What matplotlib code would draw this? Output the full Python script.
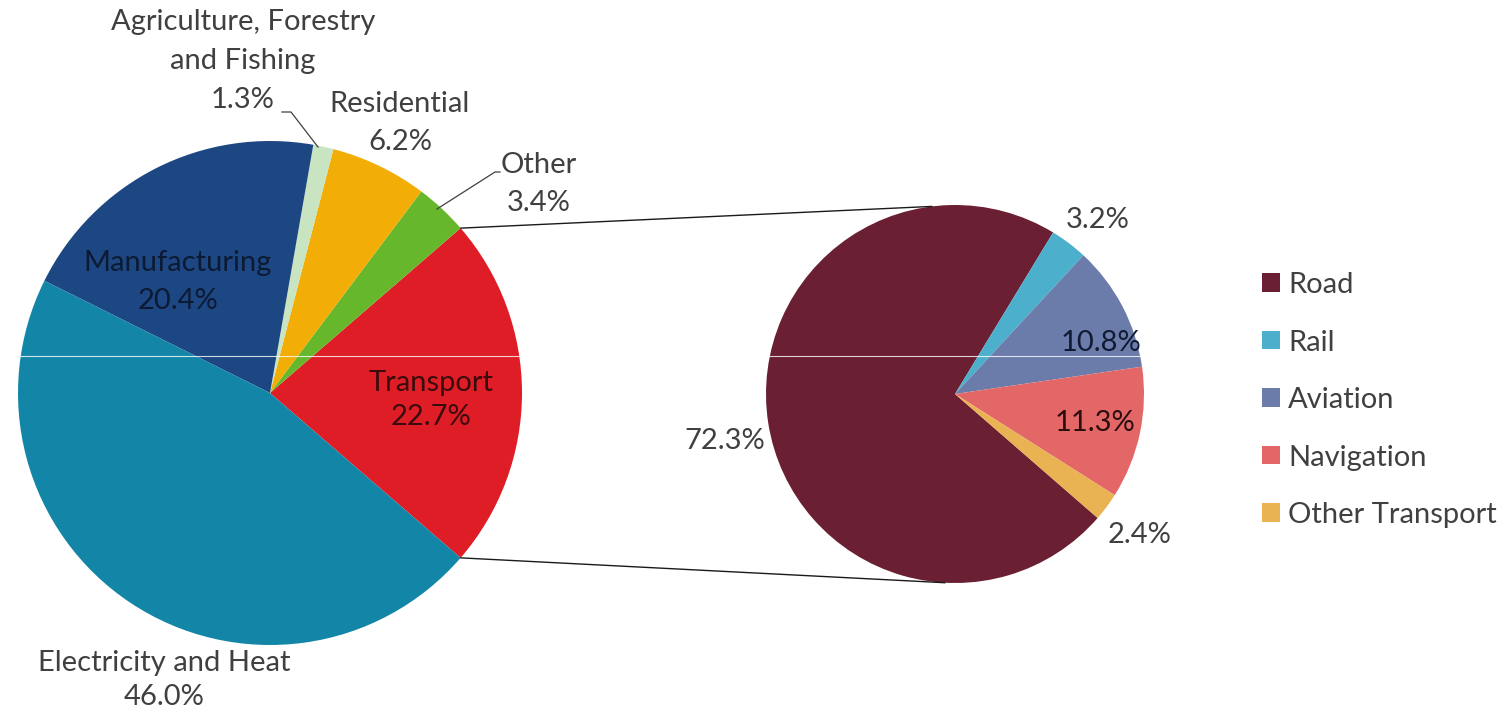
import numpy as np
import matplotlib.pyplot as plt
from matplotlib.patches import ConnectionPatch, Patch

W, H = 1503, 715

# main pie, listed counter-clockwise starting from the Transport slice
sectors = ["Transport", "Other", "Residential", "Agriculture, Forestry and Fishing",
           "Manufacturing", "Electricity and Heat"]
sector_share = [22.7, 3.4, 6.2, 1.3, 20.4, 46.0]
sector_colors = ["#df1d26", "#67b72c", "#f2ad06", "#c8e4c0", "#1d4783", "#1386a7"]

# breakdown of Transport
modes = ["Road", "Rail", "Aviation", "Navigation", "Other Transport"]
mode_share = [72.3, 3.2, 10.8, 11.3, 2.4]
mode_colors = ["#6a2032", "#4cb0cc", "#6b7cab", "#e46768", "#e9b252"]

plt.rcParams["font.family"] = ["Lato", "DejaVu Sans"]
FS = 21
GREY = "#404040"


def px(x, y):
    # pixel position (from top-left) -> figure fraction
    return x / W, 1 - y / H


def box(cx, cy, r):
    return [(cx - r) / W, (H - cy - r) / H, 2 * r / W, 2 * r / H]


fig = plt.figure(figsize=(W / 100, H / 100), dpi=100)

ax1 = fig.add_axes(box(270, 393, 252))
ax2 = fig.add_axes(box(955, 394, 189))

start1 = -sector_share[0] * 3.6 / 2
w1, _ = ax1.pie(sector_share, colors=sector_colors, startangle=start1,
                counterclock=True, radius=1, wedgeprops=dict(linewidth=0))
w2, _ = ax2.pie(mode_share, colors=mode_colors, startangle=319,
                counterclock=False, radius=1, wedgeprops=dict(linewidth=0))
for ax in (ax1, ax2):
    ax.set_xlim(-1, 1)
    ax.set_ylim(-1, 1)
    ax.axis("off")

# connector lines between the Transport slice and the second pie
t1, t2 = w1[0].theta1, w1[0].theta2
for ang, end in [(t2, 97), (t1, -93)]:
    a = np.deg2rad(ang)
    b = np.deg2rad(end)
    con = ConnectionPatch(xyA=(np.cos(a), np.sin(a)), coordsA=ax1.transData,
                          xyB=(np.cos(b), np.sin(b)), coordsB=ax2.transData,
                          color="#1a1a1a", lw=1.0)
    fig.add_artist(con)

# labels of the main pie
lab = dict(ha="center", va="center", fontsize=FS, linespacing=1.55)
for y, line in [(22, "Agriculture, Forestry"), (61, "and Fishing"), (100, "1.3%")]:
    fig.text(*px(243, y), line, color=GREY, ha="center", va="center", fontsize=FS)
fig.text(*px(400, 123), "Residential\n6.2%", color=GREY, **lab)
fig.text(*px(539, 184), "Other\n3.4%", color=GREY, **lab)
fig.text(*px(178, 282), "Manufacturing\n20.4%", color="#0c1a33", **lab)
lab["linespacing"] = 1.35
fig.text(*px(431, 400), "Transport\n22.7%", color="#3a0c0e", **lab)
fig.text(*px(164, 680), "Electricity and Heat\n46.0%", color=GREY, **lab)

# leader lines
fig.add_artist(plt.Line2D([282 / W, 291 / W, 318 / W], [1 - 112 / H, 1 - 112 / H, 1 - 147 / H],
                          color=GREY, lw=0.9))
fig.add_artist(plt.Line2D([500 / W, 495 / W, 437 / W], [1 - 172 / H, 1 - 172 / H, 1 - 209 / H],
                          color=GREY, lw=0.9))

# labels of the second pie
one = dict(ha="center", va="center", fontsize=FS)
fig.text(*px(1098, 220), "3.2%", color=GREY, **one)
fig.text(*px(1101, 343), "10.8%", color="#111a33", **one)
fig.text(*px(1095, 423), "11.3%", color="#2b0d0d", **one)
fig.text(*px(725, 441), "72.3%", color=GREY, **one)
fig.text(*px(1140, 535), "2.4%", color=GREY, **one)

handles = [Patch(facecolor=c, edgecolor="none", label=m) for m, c in zip(modes, mode_colors)]
fig.legend(handles=handles, loc="center left", bbox_to_anchor=px(1262, 400),
           frameon=False, fontsize=FS, handlelength=0.6, handleheight=0.6,
           handletextpad=0.3, labelspacing=1.08, borderpad=0, borderaxespad=0,
           labelcolor=GREY)

# faint scan line across the picture
fig.add_artist(plt.Line2D([0, 1], [1 - 356 / H, 1 - 356 / H], color="white", lw=0.8, alpha=0.8))

fig.savefig("out.png", dpi=100, facecolor="white")
